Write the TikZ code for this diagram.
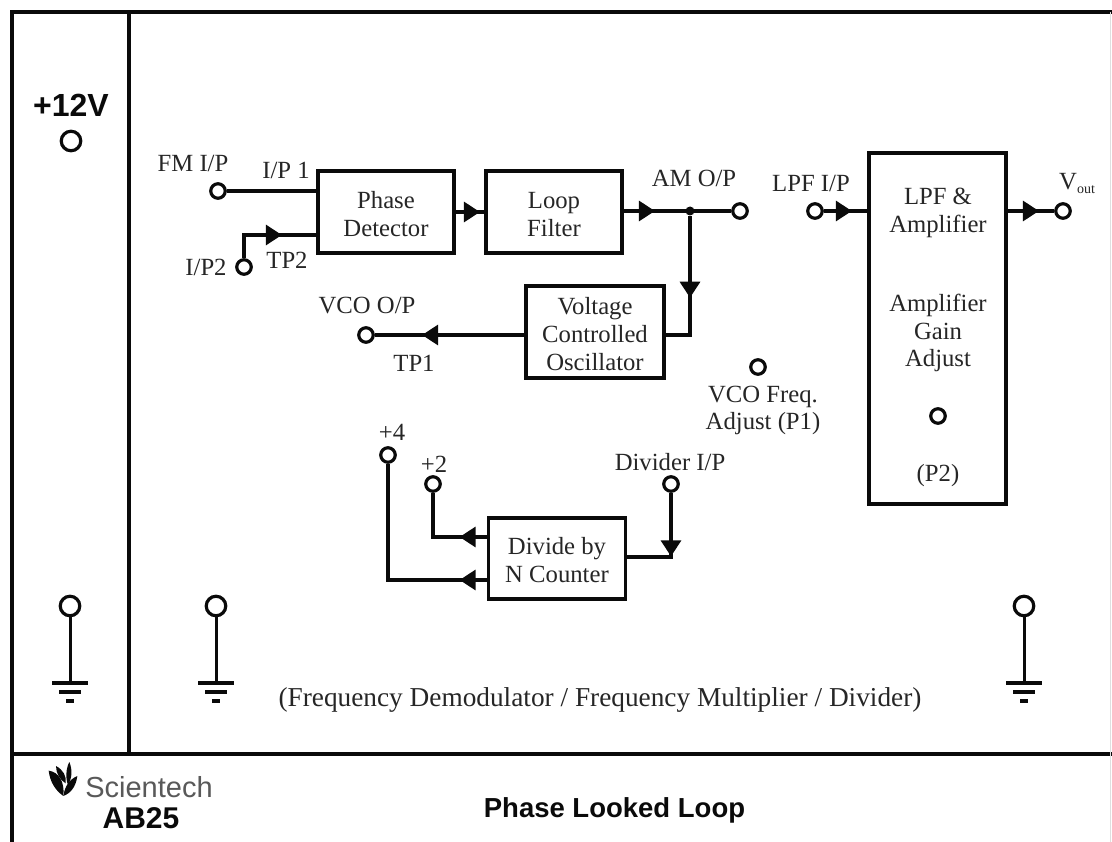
\documentclass[tikz,border=0pt]{standalone}
\usepackage{fontspec}
\setmainfont{Liberation Serif}
\newfontfamily\arialfont{Liberation Sans}
\usetikzlibrary{arrows.meta,decorations.markings}
\definecolor{ink}{HTML}{0A0A0A}
\definecolor{txt}{HTML}{262626}
\newcommand{\boxtext}[1]{\raisebox{-11pt}[0pt][0pt]{\begin{tabular}{@{}c@{}}#1\end{tabular}}}
\tikzset{
  frameline/.style={draw=ink,line width=3.6pt},
  wire/.style={draw=ink,line width=3.2pt},
  thinwire/.style={draw=ink,line width=3pt},
  blockbox/.style={draw=ink,line width=3.8pt,rectangle,inner sep=0pt,align=center,text=txt,font=\fontsize{24.7}{27.8}\selectfont},
  term/.style={circle,draw=ink,line width=3.2pt,fill=white,inner sep=0pt,minimum size=14.5pt},
  bigterm/.style={term,minimum size=19.5pt},
  lbl/.style={text=txt,inner sep=0pt,align=center,font=\fontsize{24.7}{27}\selectfont},
  tipat/.style={postaction={decorate},decoration={markings,mark=at position #1 with {\arrow[ink]{Triangle[length=16pt,width=20pt]}}}},
  dot/.style={circle,fill=ink,inner sep=0pt,minimum size=9pt},
  sanstitle/.style={inner sep=0pt,text=ink,font=\arialfont\bfseries\fontsize{#1}{#1}\selectfont}
}
\begin{document}
\begin{tikzpicture}[x=1pt,y=-1pt]
\useasboundingbox (0,0) rectangle (1112,842);
\fill[white] (0,0) rectangle (1112,842);
% frame
\coordinate (ftl) at (12,12); \coordinate (ftr) at (1112,12);
\coordinate (fbl) at (12,842); \coordinate (fml) at (12,754);
\coordinate (fmr) at (1112,754); \coordinate (fvt) at (129,12); \coordinate (fvb) at (129,754);
\draw[frameline] (fbl) -- (ftl) -- (ftr);
\draw[frameline] (fml) -- (fmr);
\draw[frameline] (fvt) -- (fvb);
\draw[draw=gray!25,line width=1pt] (1110.5,12) -- (1110.5,842);
% blocks
\node[blockbox,minimum width=136pt,minimum height=82pt] (pd) at (386,212) {\boxtext{Phase\\Detector}};
\node[blockbox,minimum width=136pt,minimum height=82pt] (lf) at (554,212) {\boxtext{Loop\\Filter}};
\node[blockbox,minimum width=138pt,minimum height=92pt] (vco) at (595,332) {\boxtext{Voltage\\Controlled\\Oscillator}};
\node[blockbox,minimum width=137pt,minimum height=351pt] (lpf) at (937.5,328.5) {};
\node[blockbox,minimum width=137pt,minimum height=81pt] (div) at (557,558.5) {\boxtext{Divide by\\N Counter}};
% terminals
\node[bigterm] (v12) at (71,141) {};
\node[term] (fm) at (218,191) {};
\node[term] (ip2) at (244,267) {};
\node[term] (vcoout) at (366,335) {};
\node[term] (am) at (740,211) {};
\node[term] (lpfin) at (815,211) {};
\node[term] (vout) at (1063,211) {};
\node[term] (p1) at (758,367) {};
\node[term] (p2) at (938,416) {};
\node[term] (n4) at (388,455) {};
\node[term] (n2) at (433,484) {};
\node[term] (dv) at (671,484) {};
\node[bigterm] (g1) at (70,606) {};
\node[bigterm] (g2) at (216,606) {};
\node[bigterm] (g3) at (1024,606) {};
\node[dot] (jn) at (690,211) {};
% connectors
\coordinate (pda) at (pd.west |- fm);
\draw[wire] (fm) -- (pda);
\coordinate (c1) at (244,235);
\coordinate (pdb) at (pd.west |- c1);
\draw[wire,tipat=61pt] (ip2) -- (c1) -- (pdb);
\draw[wire,tipat=24pt] (pd.east |- 0,212) -- (lf.west |- 0,212);
\draw[wire,tipat=31pt] (lf.east |- am) -- (am);
\coordinate (c2) at (690,335);
\coordinate (vcor) at (vco.east |- c2);
\draw[wire,tipat=82pt] (jn) -- (c2) -- (vcor);
\draw[wire,tipat=102pt] (vco.west |- vcoout) -- (vcoout);
\draw[wire,tipat=28pt] (lpfin) -- (lpf.west |- lpfin);
\draw[wire,tipat=31pt] (lpf.east |- vout) -- (vout);
\coordinate (c3) at (671,557);
\coordinate (divr) at (div.east |- c3);
\draw[wire,tipat=63.5pt] (dv) -- (c3) -- (divr);
\coordinate (c4) at (433,537);
\coordinate (c5) at (388,580);
\draw[wire,tipat=27pt] (div.west |- c4) -- (c4) -- (n2);
\draw[wire,tipat=27pt] (div.west |- c5) -- (c5) -- (n4);
% grounds
\foreach \g/\x in {g1/70,g2/216,g3/1024}{
  \coordinate (\g b) at (\x,683);
  \draw[thinwire] (\g) -- (\g b);
  \draw[draw=ink,line width=3.6pt] (\x-18,683) -- (\x+18,683);
  \draw[draw=ink,line width=3.6pt] (\x-11,692) -- (\x+11,692);
  \draw[draw=ink,line width=3.6pt] (\x-4,701) -- (\x+4,701);
}
% labels
\node[sanstitle=32] (l12) at (71,105) {+12V};
\node[lbl] (t1) at (193,163) {FM I/P};
\node[lbl] (t2) at (286,170) {I/P 1};
\node[lbl] (t3) at (287,260) {TP2};
\node[lbl] (t4) at (206,267) {I/P2};
\node[lbl] (t5) at (367,306) {VCO O/P};
\node[lbl] (t6) at (414,363) {TP1};
\node[lbl] (t7) at (694,178) {AM O/P};
\node[lbl] (t8) at (811,183) {LPF I/P};
\node[lbl,anchor=west] (t9) at (1059,183) {V\raisebox{-4pt}{\fontsize{14}{14}\selectfont out}};
\node[lbl,font=\fontsize{24.7}{27.5}\selectfont] (t10) at (938,213) {LPF \&\\Amplifier};
\node[lbl,font=\fontsize{24.7}{27.5}\selectfont] (t11) at (938,333) {Amplifier\\Gain\\Adjust};
\node[lbl,font=\fontsize{24.7}{27.5}\selectfont] (t12) at (938,476) {(P2)};
\node[lbl] (t13) at (763,410) {VCO Freq.\\Adjust (P1)};
\node[lbl] (t14) at (670,462) {Divider I/P};
\node[lbl] (t15) at (392,432) {+4};
\node[lbl] (t16) at (434,464) {+2};
\node[lbl,font=\fontsize{27.3}{30}\selectfont] (t17) at (600,700) {(Frequency Demodulator / Frequency Multiplier / Divider)};
\node[sanstitle=27.5] (title) at (614.5,810) {Phase Looked Loop};
\node[sanstitle=30] (ab) at (141,818) {AB25};
\node[inner sep=0pt,text=black!65,font=\arialfont\fontsize{29}{29}\selectfont] (sci) at (149,787) {Scientech};
% logo
\begin{scope}[shift={(0,740)},x=0.3333pt,y=-0.3333pt]
\fill[ink] (146,92) .. controls (175,95) and (195,125) .. (190,168) .. controls (165,150) and (150,125) .. (146,92) -- cycle;
\fill[ink] (168,78) .. controls (190,90) and (200,108) .. (197,130) .. controls (180,120) and (168,100) .. (168,78) -- cycle;
\fill[ink] (208,66) .. controls (218,90) and (216,115) .. (204,135) .. controls (196,115) and (198,85) .. (208,66) -- cycle;
\fill[ink] (232,108) .. controls (228,140) and (212,160) .. (190,168) .. controls (194,140) and (208,118) .. (232,108) -- cycle;
\end{scope}
\end{tikzpicture}
\end{document}
